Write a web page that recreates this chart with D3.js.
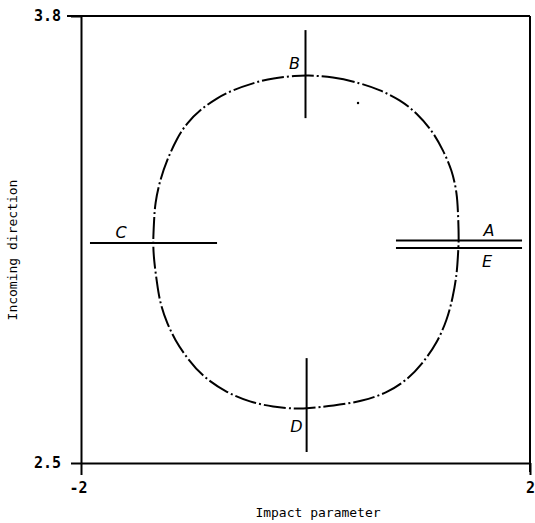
<!DOCTYPE html>
<html>
<head>
<meta charset="utf-8">
<script src="https://cdn.jsdelivr.net/npm/d3@7"></script>
<style>
  html, body { margin: 0; padding: 0; background: #fff; }
  svg { display: block; }
</style>
</head>
<body>
<script>
// Closed orbit in the (impact parameter, incoming direction) plane, traced clockwise from the top
const orbitX = [0.00, 0.245, 0.486, 0.664, 0.842, 0.993, 1.136, 1.225, 1.305, 1.350, 1.359, 1.367,
                1.359, 1.350, 1.314, 1.261, 1.171, 1.047, 0.904, 0.726, 0.512, 0.245, 0.013,
                -0.076, -0.290, -0.494, -0.699, -0.913, -1.056, -1.163, -1.234, -1.296, -1.323, -1.350, -1.359,
                -1.350, -1.341, -1.296, -1.234, -1.145, -1.056, -0.940, -0.788, -0.646, -0.468, -0.290, -0.076];
const orbitY = [3.628, 3.623, 3.605, 3.585, 3.556, 3.518, 3.463, 3.410, 3.352, 3.285, 3.227, 3.149,
                3.111, 3.053, 2.983, 2.916, 2.849, 2.791, 2.741, 2.704, 2.680, 2.666, 2.659,
                2.657, 2.663, 2.677, 2.704, 2.750, 2.805, 2.858, 2.907, 2.965, 3.023, 3.090, 3.140,
                3.198, 3.256, 3.323, 3.381, 3.445, 3.489, 3.527, 3.562, 3.585, 3.605, 3.620, 3.626];

// Section lines crossing the orbit
const segNames = ["A", "E", "C", "B", "D"];
const segX1 = [0.806, 0.806, -1.920, 0.00, 0.01];
const segX2 = [1.929, 1.929, -0.788, 0.00, 0.01];
const segY1 = [3.147, 3.125, 3.140, 3.503, 2.532];
const segY2 = [3.147, 3.125, 3.140, 3.759, 2.805];

// Where each section letter sits
const labelX = [1.635, 1.617, -1.644, -0.098, -0.080];
const labelY = [3.175, 3.085, 3.169, 3.663, 2.606];

// Isolated speck inside the orbit
const speckX = [0.468];
const speckY = [3.547];

const xTicks = [-2, 2];
const yTicks = [2.5, 3.8];
const xTitle = "Impact parameter";
const yTitle = "Incoming direction";

const W = 535, H = 523;
const svg = d3.select("body").append("svg").attr("width", W).attr("height", H);

const x = d3.scaleLinear().domain([-2, 2]).range([81, 530]);
const y = d3.scaleLinear().domain([2.5, 3.8]).range([463, 16]);

const mono = "'DejaVu Sans Mono', 'Liberation Mono', monospace";

// Frame: top and right edges
svg.append("line").attr("x1", x(-2) - 14).attr("x2", x(2)).attr("y1", y(3.8)).attr("y2", y(3.8))
  .attr("stroke", "#000").attr("stroke-width", 2);
svg.append("line").attr("x1", x(2)).attr("x2", x(2)).attr("y1", y(3.8)).attr("y2", y(2.5) + 9)
  .attr("stroke", "#000").attr("stroke-width", 2);

// Left axis
const gy = svg.append("g").attr("transform", `translate(${x(-2)},0)`)
  .call(d3.axisLeft(y).tickValues(yTicks).tickSize(10).tickSizeOuter(0).tickPadding(10)
        .tickFormat(d3.format(".1f")));
// Bottom axis
const gx = svg.append("g").attr("transform", `translate(0,${y(2.5)})`)
  .call(d3.axisBottom(x).tickValues(xTicks).tickSize(12).tickSizeOuter(0).tickPadding(10)
        .tickFormat(d => d < 0 ? "-" + Math.abs(d) : String(d)));

[gx, gy].forEach(g => {
  g.select(".domain").attr("stroke", "#000").attr("stroke-width", 2);
  g.selectAll(".tick line").attr("stroke", "#000").attr("stroke-width", 2);
  g.selectAll(".tick text").attr("fill", "#000").attr("font-family", mono)
    .attr("font-size", 15).attr("font-weight", 600);
});
gx.selectAll(".tick text").attr("dy", "0.55em");
gx.selectAll(".tick text").filter(d => d < 0).attr("dx", "-0.2em");

// Orbit curve (chain-dotted)
const pts = orbitX.map((v, i) => [v, orbitY[i]]);
const line = d3.line().x(d => x(d[0])).y(d => y(d[1])).curve(d3.curveBasisClosed);
svg.append("path").attr("d", line(pts)).attr("fill", "none").attr("stroke", "#000")
  .attr("stroke-width", 2).attr("stroke-dasharray", "22 3 2 3");

// Section lines
svg.selectAll("line.seg").data(segNames).join("line").attr("class", "seg")
  .attr("x1", (d, i) => x(segX1[i])).attr("x2", (d, i) => x(segX2[i]))
  .attr("y1", (d, i) => y(segY1[i])).attr("y2", (d, i) => y(segY2[i]))
  .attr("stroke", "#000").attr("stroke-width", 2);

// Section letters
svg.selectAll("text.lab").data(segNames).join("text").attr("class", "lab")
  .attr("x", (d, i) => x(labelX[i])).attr("y", (d, i) => y(labelY[i]))
  .attr("text-anchor", "middle").attr("dominant-baseline", "central")
  .attr("font-family", "'DejaVu Sans', sans-serif").attr("font-style", "italic")
  .attr("font-size", 16).text(d => d);

// Speck
svg.selectAll("circle.speck").data(speckX).join("circle").attr("class", "speck")
  .attr("cx", d => x(d)).attr("cy", (d, i) => y(speckY[i])).attr("r", 1.2).attr("fill", "#000");

// Axis titles
svg.append("text").attr("x", 318).attr("y", 512).attr("text-anchor", "middle")
  .attr("dominant-baseline", "central").attr("font-family", mono).attr("font-size", 13)
  .text(xTitle);
svg.append("text").attr("transform", `translate(12,${250}) rotate(-90)`).attr("text-anchor", "middle")
  .attr("dominant-baseline", "central").attr("font-family", mono).attr("font-size", 13)
  .text(yTitle);
</script>
</body>
</html>
